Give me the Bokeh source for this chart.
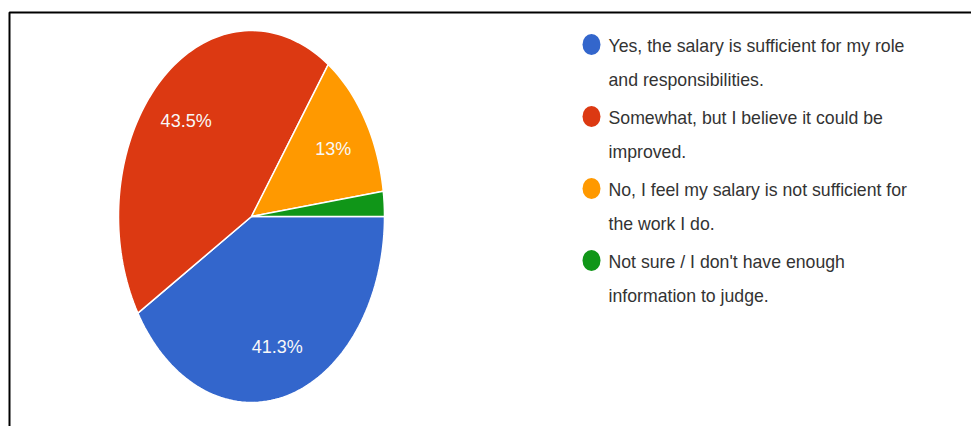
import math
from bokeh.plotting import figure
from bokeh.models import Range1d
from bokeh.core.properties import value
from bokeh.embed import file_html
from bokeh.resources import INLINE

# ---- data ----
categories = [
    "Yes, the salary is sufficient for my role and responsibilities.",
    "Somewhat, but I believe it could be improved.",
    "No, I feel my salary is not sufficient for the work I do.",
    "Not sure / I don't have enough information to judge.",
]
legend_lines = [
    ["Yes, the salary is sufficient for my role", "and responsibilities."],
    ["Somewhat, but I believe it could be", "improved."],
    ["No, I feel my salary is not sufficient for", "the work I do."],
    ["Not sure / I don't have enough", "information to judge."],
]
counts = [19, 20, 6, 1]
colors = ["#3366cc", "#dc3912", "#ff9900", "#109618"]

# ---- layout (page pixel coordinates) ----
W, H = 971, 426
CX, CY, RX, RY = 251, 216, 133, 186
LABEL_R = 0.72
FONT = "Liberation Sans"

p = figure(width=W, height=H, x_range=Range1d(0, W), y_range=Range1d(H, 0),
           output_backend="svg", toolbar_location=None, min_border=0,
           x_axis_location=None, y_axis_location=None)
p.grid.visible = False
p.outline_line_color = None
p.background_fill_color = "white"
p.border_fill_color = "white"

# frame lines (top and left)
p.line(x=[9, 9, W], y=[H, 12, 12], line_color="black", line_width=2)

total = sum(counts)
xs, ys = [], []
lx, ly, lt = [], [], []
start = 0.0
for c in counts:
    frac = c / total
    a0 = start * 2 * math.pi
    a1 = (start + frac) * 2 * math.pi
    n = max(4, int(200 * frac))
    px = [CX] + [CX + RX * math.cos(a0 + (a1 - a0) * i / n) for i in range(n + 1)]
    py = [CY] + [CY + RY * math.sin(a0 + (a1 - a0) * i / n) for i in range(n + 1)]
    xs.append(px)
    ys.append(py)
    pct = frac * 100
    if pct >= 5:
        am = (a0 + a1) / 2
        lx.append(CX + LABEL_R * RX * math.cos(am))
        ly.append(CY + LABEL_R * RY * math.sin(am) + 2)
        lt.append(f"{round(pct, 1):g}%")
    start += frac

p.patches(xs=xs, ys=ys, fill_color=colors, line_color="white", line_width=1.5)
p.text(x=lx, y=ly, text=lt, text_color="#f8f8f8", text_font=value(FONT),
       text_font_size="18px", text_align="center", text_baseline="middle")

# legend
LEG_X, LEG_Y0, LEG_DY, LINE_DY = 591, 44, 72, 34
mx = [LEG_X] * len(categories)
my = [LEG_Y0 + i * LEG_DY for i in range(len(categories))]
p.ellipse(x=mx, y=my, width=18, height=21, fill_color=colors, line_color=None)
tx, ty, tt = [], [], []
for i, lines in enumerate(legend_lines):
    for j, s in enumerate(lines):
        tx.append(608)
        ty.append(my[i] + 1 + j * LINE_DY)
        tt.append(s)
p.text(x=tx, y=ty, text=tt, text_color="#333333", text_font=value(FONT),
       text_font_size="17.7px", text_align="left", text_baseline="middle")

open("out.html", "w").write(file_html(p, INLINE))
